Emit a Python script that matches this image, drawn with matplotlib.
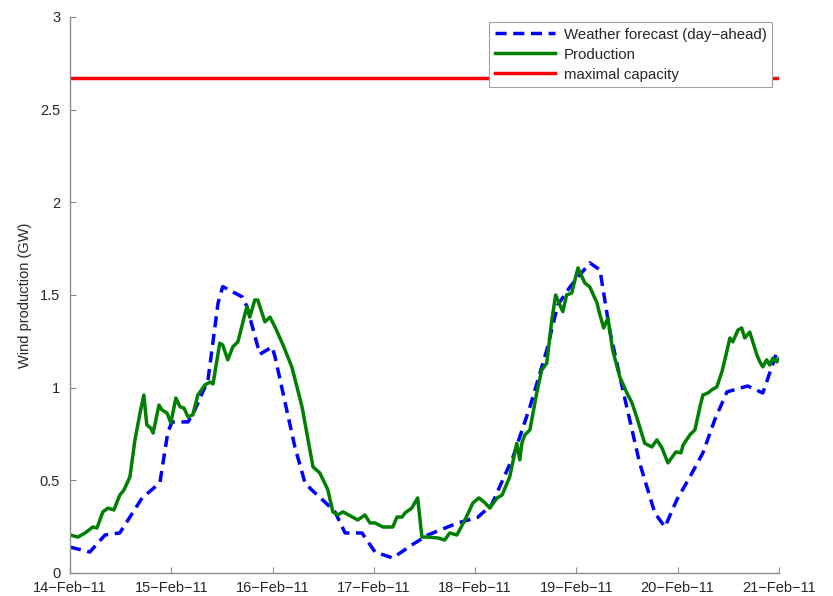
import matplotlib
matplotlib.use("Agg")
import matplotlib.pyplot as plt

plt.rcParams['font.family'] = ['Liberation Sans', 'DejaVu Sans']

# Day-ahead weather forecast (hours since 14-Feb-11 00:00, GW)
forecast_hours = [0, 4.7, 8.3, 11.8, 17.1, 21.3, 23.2, 24.2, 28.0, 29.6, 32.7, 35.1, 36.2,
                  40.8, 41.9, 45.0, 47.9, 48.6, 53.3, 55.7, 57.3, 60.4, 62.8, 65.2, 69.2,
                  72.3, 76.5, 81.0, 84.8, 91.9, 96.6, 99.9, 105.0, 109.0, 113.0, 115.6,
                  118.5, 123.2, 125.6, 127.9, 131.0, 135.0, 138.6, 141.0, 143.8, 146.9,
                  150.0, 152.8, 155.7, 160.6, 164.2, 167.7]
forecast_gw = [0.14, 0.113, 0.205, 0.216, 0.405, 0.486, 0.76, 0.815, 0.815, 0.88, 1.04, 1.457,
               1.545, 1.49, 1.44, 1.18, 1.22, 1.166, 0.68, 0.486, 0.448, 0.383, 0.33, 0.216,
               0.216, 0.113, 0.081, 0.151, 0.205, 0.27, 0.30, 0.367, 0.626, 0.896, 1.203,
               1.446, 1.543, 1.673, 1.635, 1.31, 0.99, 0.594, 0.324, 0.248, 0.394, 0.518,
               0.648, 0.826, 0.977, 1.009, 0.971, 1.203]

# Measured wind production (hours since 14-Feb-11 00:00, GW)
production_hours = [0, 1.9, 3.6, 5.4, 6.4, 7.8, 9.0, 10.4, 11.8, 12.8, 14.2, 15.4, 16.6, 17.5,
                    18.2, 19.2, 19.7, 21.1, 21.8, 23.0, 23.9, 25.1, 26.1, 27.0, 28.0, 29.1,
                    30.3, 32.0, 33.2, 33.9, 35.5, 36.2, 37.4, 38.6, 39.8, 41.9, 42.6, 43.8,
                    44.5, 46.2, 47.4, 48.6, 50.5, 52.6, 55.0, 57.6, 59.2, 61.1, 62.3, 63.5,
                    64.7, 68.2, 69.9, 71.1, 72.3, 74.2, 76.5, 77.5, 78.7, 79.4, 81.0, 82.4,
                    83.4, 84.8, 87.2, 88.8, 90.0, 91.7, 93.6, 95.5, 96.9, 98.3, 99.5, 101.2,
                    102.4, 104.2, 105.9, 106.6, 107.1, 107.8, 109.0, 110.6, 111.8, 113.0,
                    114.2, 115.1, 116.1, 116.8, 117.7, 118.9, 120.4, 122.0, 123.2, 124.9,
                    125.6, 126.5, 127.5, 128.6, 130.3, 132.0, 133.2, 134.3, 136.2, 137.9,
                    139.1, 140.3, 141.7, 143.6, 144.8, 145.3, 146.9, 148.1, 149.3, 150.0,
                    151.2, 152.1, 153.3, 154.5, 155.2, 156.4, 157.1, 158.3, 159.2, 159.9,
                    161.1, 162.8, 163.5, 164.2, 165.1, 165.8, 166.6, 167.5, 168.0]
production_gw = [0.205, 0.194, 0.216, 0.248, 0.243, 0.33, 0.35, 0.34, 0.42, 0.448, 0.518,
                 0.718, 0.863, 0.96, 0.8, 0.78, 0.755, 0.906, 0.88, 0.863, 0.81, 0.944,
                 0.896, 0.89, 0.842, 0.853, 0.96, 1.015, 1.03, 1.02, 1.24, 1.23, 1.15, 1.22,
                 1.247, 1.436, 1.38, 1.473, 1.473, 1.355, 1.38, 1.327, 1.23, 1.11, 0.896,
                 0.572, 0.54, 0.45, 0.33, 0.313, 0.33, 0.286, 0.313, 0.27, 0.27, 0.248,
                 0.248, 0.302, 0.302, 0.324, 0.35, 0.405, 0.194, 0.194, 0.189, 0.178, 0.216,
                 0.205, 0.286, 0.378, 0.405, 0.38, 0.35, 0.405, 0.42, 0.518, 0.7, 0.61, 0.7,
                 0.745, 0.772, 0.97, 1.095, 1.133, 1.365, 1.5, 1.446, 1.41, 1.5, 1.51, 1.646,
                 1.565, 1.543, 1.457, 1.392, 1.322, 1.376, 1.203, 1.058, 0.971, 0.917, 0.842,
                 0.7, 0.68, 0.718, 0.675, 0.594, 0.653, 0.648, 0.69, 0.745, 0.772, 0.896,
                 0.96, 0.971, 0.988, 1.004, 1.085, 1.15, 1.268, 1.247, 1.311, 1.322, 1.268,
                 1.30, 1.176, 1.139, 1.112, 1.15, 1.122, 1.16, 1.139, 1.155]

max_capacity_gw = 2.67

tick_hours = [0, 24, 48, 72, 96, 120, 144, 168]
tick_labels = ['14\u2212Feb\u221211', '15\u2212Feb\u221211', '16\u2212Feb\u221211',
               '17\u2212Feb\u221211', '18\u2212Feb\u221211', '19\u2212Feb\u221211',
               '20\u2212Feb\u221211', '21\u2212Feb\u221211']
y_ticks = [0, 0.5, 1, 1.5, 2, 2.5, 3]
y_tick_labels = ['0', '0.5', '1', '1.5', '2', '2.5', '3']

fig = plt.figure(figsize=(8.33, 5.96), dpi=100)
ax = fig.add_axes([0.084, 0.0386, 0.851, 0.933])

ax.plot(forecast_hours, forecast_gw, color=(0, 0, 1), linestyle=(0, (3.2, 1.9)),
        linewidth=2.5, label='Weather forecast (day\u2212ahead)')
ax.plot(production_hours, production_gw, color=(0, 0.5, 0), linewidth=2.5,
        label='Production')
ax.plot([tick_hours[0], tick_hours[-1]], [max_capacity_gw, max_capacity_gw],
        color=(1, 0, 0), linewidth=2.5, label='maximal capacity')

ax.set_xlim(tick_hours[0], tick_hours[-1])
ax.set_ylim(0, 3)
ax.set_xticks(tick_hours)
ax.set_xticklabels(tick_labels)
ax.set_yticks(y_ticks)
ax.set_yticklabels(y_tick_labels)

for side in ('top', 'right'):
    ax.spines[side].set_visible(False)
for side in ('left', 'bottom'):
    ax.spines[side].set_color('#8c8c8c')
    ax.spines[side].set_linewidth(1.0)
ax.tick_params(direction='in', length=4, width=0.8, color='#8c8c8c',
               labelsize=10.5, labelcolor='#262626')
ax.tick_params(axis='x', pad=6)
ax.tick_params(axis='y', pad=7)

ax.set_ylabel('Wind production (GW)', fontsize=10.5, color='#262626', labelpad=6)

leg = ax.legend(loc='upper right', bbox_to_anchor=(0.99, 0.99), borderaxespad=0,
                fontsize=10.8, frameon=True, fancybox=False, framealpha=1,
                edgecolor='#a0a0a0', handlelength=4.0, handletextpad=0.6,
                borderpad=0.35, labelspacing=0.4)
leg.get_frame().set_linewidth(0.8)
for t in leg.get_texts():
    t.set_color('#262626')

fig.savefig('out.png', dpi=100)
